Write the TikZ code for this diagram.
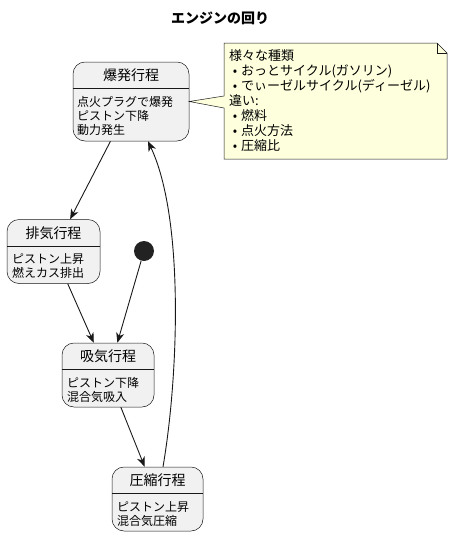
\documentclass[tikz,border=0pt]{standalone}
\usepackage{fontspec}
\setmainfont{Noto Sans CJK JP}
\usetikzlibrary{arrows.meta}
\definecolor{statefill}{HTML}{F1F1F1}
\definecolor{lineclr}{HTML}{181818}
\definecolor{notefill}{HTML}{FEFFDD}
\definecolor{startclr}{HTML}{222222}
\newcommand{\notebullet}{\makebox[12pt]{•}}
\tikzset{
  state/.style={draw=lineclr, fill=statefill, line width=0.5pt, rounded corners=12pt, inner sep=0pt},
  statename/.style={font=\fontsize{14}{16}\selectfont, inner sep=0pt},
  statebody/.style={font=\fontsize{12}{14}\selectfont, align=left, anchor=north west, inner sep=0pt},
  notebody/.style={font=\fontsize{13}{15}\selectfont, align=left, anchor=north west, inner sep=0pt},
  trans/.style={draw=lineclr, line width=0.9pt, -{Stealth[length=10pt,width=8pt,inset=3pt]}},
}
\begin{document}
\begin{tikzpicture}[x=1pt, y=-1pt]
    \useasboundingbox (0,0) rectangle (454,536);

    % Title
    \node[font=\fontsize{14}{16}\selectfont\bfseries] (title) at (220,18) {エンジンの回り};

    % States
    \node[state, minimum width=116pt, minimum height=79pt] (bak) at (131,101.5) {};
    \node[statename] (bak-name) at (131,75.5) {爆発行程};
    \draw[lineclr, line width=0.5pt] (bak.west |- 0,88.5) -- (bak.east |- 0,88.5);
    \node[statebody] (bak-body) at (77,96) {点火プラグで爆発\\ピストン下降\\動力発生};

    \node[state, minimum width=93pt, minimum height=64pt] (haiki) at (53.5,251.5) {};
    \node[statename] (haiki-name) at (53.5,233) {排気行程};
    \draw[lineclr, line width=0.5pt] (haiki.west |- 0,246) -- (haiki.east |- 0,246);
    \node[statebody] (haiki-body) at (12,253.5) {ピストン上昇\\燃えカス排出};

    \node[state, minimum width=92pt, minimum height=64pt] (kyuki) at (108,375) {};
    \node[statename] (kyuki-name) at (108,356.5) {吸気行程};
    \draw[lineclr, line width=0.5pt] (kyuki.west |- 0,369.5) -- (kyuki.east |- 0,369.5);
    \node[statebody] (kyuki-body) at (67,377) {ピストン下降\\混合気吸入};

    \node[state, minimum width=91pt, minimum height=64pt] (asshuku) at (157.5,499) {};
    \node[statename] (asshuku-name) at (157.5,480.5) {圧縮行程};
    \draw[lineclr, line width=0.5pt] (asshuku.west |- 0,493.5) -- (asshuku.east |- 0,493.5);
    \node[statebody] (asshuku-body) at (117,501) {ピストン上昇\\混合気圧縮};

    % Initial state
    \node[circle, fill=startclr, minimum size=20pt, inner sep=0pt] (start) at (144,251) {};

    % Transitions
    \draw[trans] (bak) -- (haiki);
    \draw[trans] (haiki) -- (kyuki);
    \draw[trans] (start) -- (kyuki);
    \draw[trans] (kyuki) -- (asshuku);
    \draw[trans] ([xshift=5.5pt]asshuku.north) .. controls (178,380) and (185,220) .. ([xshift=17pt]bak.south);

    % Note
    \filldraw[fill=notefill, draw=lineclr, line width=0.5pt] (224,43) -- (437,43) -- (447,53) -- (447,159)
      -- (224,159) -- (224,108) -- (bak.east) -- (224,96) -- cycle;
    \draw[lineclr, line width=0.5pt] (437,43) -- (437,53) -- (447,53);
    \node[notebody] (note) at (229,49.5) {様々な種類\\\notebullet おっとサイクル(ガソリン)\\\notebullet でぃーゼルサイクル(ディーゼル)\\違い:\\\notebullet 燃料\\\notebullet 点火方法\\\notebullet 圧縮比};
\end{tikzpicture}
\end{document}
